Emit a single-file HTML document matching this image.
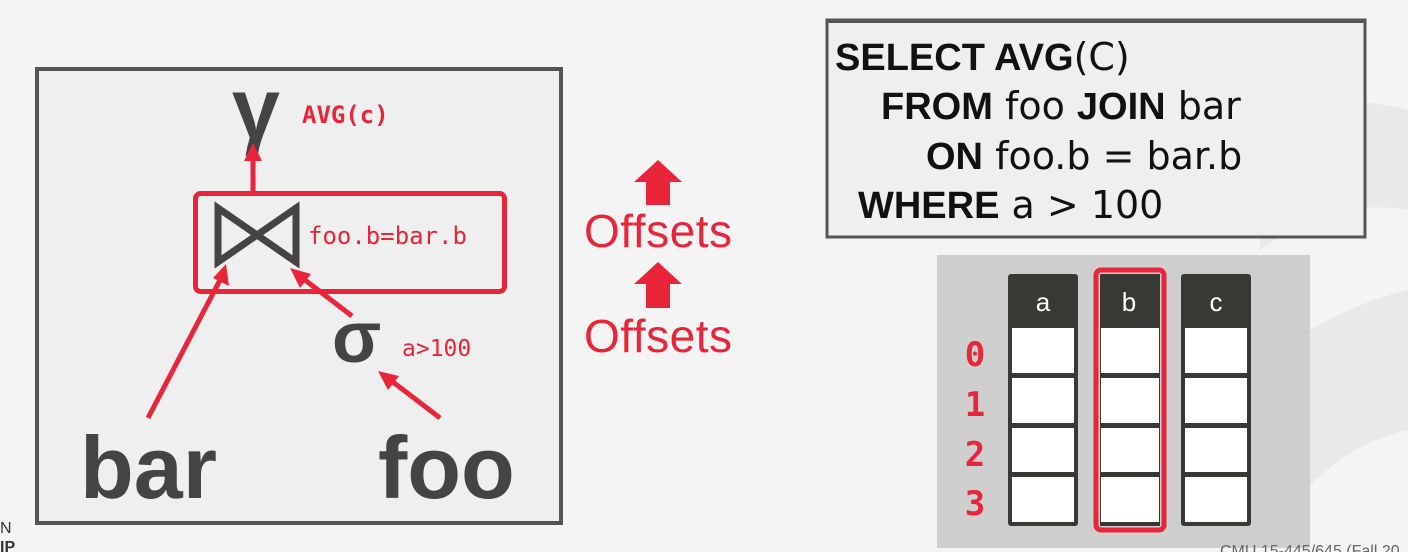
<!DOCTYPE html>
<html><head><meta charset="utf-8"><style>
html,body{margin:0;padding:0;background:#f4f4f4;}
svg{display:block}
.mono{font-family:"DejaVu Sans Mono","Liberation Mono",monospace;}
.sans{font-family:"Liberation Sans","DejaVu Sans",sans-serif;}
.dj{font-family:"DejaVu Sans","Liberation Sans",sans-serif;}
</style></head><body>
<svg width="1408" height="552" viewBox="0 0 1408 552" xmlns="http://www.w3.org/2000/svg">
<rect x="0" y="0" width="1408" height="552" fill="#f4f4f4"/>
<path d="M1270 110 C1340 90 1408 110 1408 110 L1408 210 C1350 200 1300 220 1260 250 Z" fill="#e9e9e9"/>
<path d="M1310 330 C1360 300 1408 290 1408 290 L1408 430 C1360 440 1320 470 1300 500 Z" fill="#e9e9e9"/>

<g>
<rect x="37" y="69" width="524" height="454" fill="#efefef" stroke="#555" stroke-width="4"/>
</g>
<g>
<text x="232" y="138" class="sans" font-size="86" font-weight="bold" fill="#444">γ</text>
<text x="302" y="123" class="mono" font-size="24" font-weight="bold" fill="#e8253a">AVG(c)</text>
</g>
<rect x="195.5" y="193.5" width="309" height="98" rx="5" fill="none" stroke="#e8253a" stroke-width="5"/>
<g>
<path d="M218 208 L218 262 L296 208 L296 262 Z" fill="none" stroke="#444" stroke-width="7" stroke-linejoin="miter"/>
<text x="308" y="244" class="mono" font-size="24" fill="#e8253a">foo.b=bar.b</text>
</g>
<g>
<text x="332" y="362" class="sans" font-size="72" font-weight="bold" fill="#444">σ</text>
<text x="402" y="356" class="mono" font-size="23" fill="#e8253a">a&gt;100</text>
</g>
<text x="80" y="498" class="sans" font-size="88" font-weight="bold" fill="#444">bar</text>
<text x="378" y="498" class="sans" font-size="88" font-weight="bold" fill="#444">foo</text>
<g stroke="#e8253a" stroke-width="5" fill="#e8253a">
<line x1="253" y1="192" x2="253" y2="158"/><polygon points="244,161 262,161 253,143" stroke="none"/>
<line x1="148" y1="418" x2="220" y2="280"/><polygon points="213,278 229,286 226,264" stroke="none"/>
<line x1="352" y1="316" x2="305" y2="280"/><polygon points="300,288 311,274 290,268" stroke="none"/>
<line x1="440" y1="418" x2="393" y2="382"/><polygon points="388,390 399,376 378,371" stroke="none"/>
</g>

<g>
<polygon points="658,160 682,182 670,182 670,205 646,205 646,182 634,182" fill="#e8253a"/>
<text x="584" y="247" class="sans" font-size="46" fill="#e8253a" textLength="148">Offsets</text>
</g>
<g>
<polygon points="658,262 682,284 670,284 670,308 646,308 646,284 634,284" fill="#e8253a"/>
<text x="584" y="352" class="sans" font-size="46" fill="#e8253a" textLength="148">Offsets</text>
</g>

<g>
<rect x="827" y="20" width="538" height="217" fill="#efefef" stroke="#555" stroke-width="3"/>
<rect x="827" y="19" width="538" height="4" fill="#555"/>
<g font-size="38" fill="#111">
<text x="835" y="70"><tspan class="sans" font-weight="bold">SELECT AVG</tspan><tspan class="dj">(C)</tspan></text>
<text x="881" y="119"><tspan class="sans" font-weight="bold">FROM</tspan><tspan class="dj"> foo </tspan><tspan class="sans" font-weight="bold">JOIN</tspan><tspan class="dj"> bar</tspan></text>
<text x="926" y="169"><tspan class="sans" font-weight="bold">ON</tspan><tspan class="dj"> foo.b = bar.b</tspan></text>
<text x="858" y="218"><tspan class="sans" font-weight="bold">WHERE</tspan><tspan class="dj"> a &gt; 100</tspan></text>
</g>
</g>

<g>
<rect x="937" y="255" width="373" height="293" fill="#cfcfcf"/>
<g>
<rect x="1008" y="274" width="70" height="252" rx="3" fill="#383835"/>
<rect x="1012" y="328" width="62" height="45" fill="#fff"/><rect x="1012" y="378" width="62" height="45" fill="#fff"/>
<rect x="1012" y="428" width="62" height="44" fill="#fff"/><rect x="1012" y="477" width="62" height="45" fill="#fff"/>
<text x="1043" y="311" text-anchor="middle" class="sans" font-size="26" fill="#fff">a</text>
</g>
<g>
<rect x="1100" y="274" width="60" height="252" fill="#383835"/>
<rect x="1101" y="328" width="58" height="45" fill="#fff"/><rect x="1101" y="378" width="58" height="45" fill="#fff"/>
<rect x="1101" y="428" width="58" height="44" fill="#fff"/><rect x="1101" y="477" width="58" height="45" fill="#fff"/>
<text x="1129" y="311" text-anchor="middle" class="sans" font-size="26" fill="#fff">b</text>
<rect x="1096" y="270" width="68" height="260" rx="5" fill="none" stroke="#e8253a" stroke-width="5"/>
</g>
<g>
<rect x="1181" y="274" width="70" height="252" rx="3" fill="#383835"/>
<rect x="1185" y="328" width="62" height="45" fill="#fff"/><rect x="1185" y="378" width="62" height="45" fill="#fff"/>
<rect x="1185" y="428" width="62" height="44" fill="#fff"/><rect x="1185" y="477" width="62" height="45" fill="#fff"/>
<text x="1216" y="311" text-anchor="middle" class="sans" font-size="26" fill="#fff">c</text>
</g>
<g class="mono" font-size="34" font-weight="bold" fill="#e8253a" text-anchor="middle">
<text x="975" y="366">0</text><text x="975" y="416">1</text><text x="975" y="466">2</text><text x="975" y="515">3</text>
</g>
</g>
<text x="1220" y="556" class="sans" font-size="16" fill="#666">CMU 15-445/645 (Fall 20</text>
<text x="0" y="533" class="sans" font-size="16" fill="#333">N</text>
<text x="0" y="552" class="sans" font-size="16" font-weight="bold" fill="#333">IP</text>
</svg>
</body></html>
